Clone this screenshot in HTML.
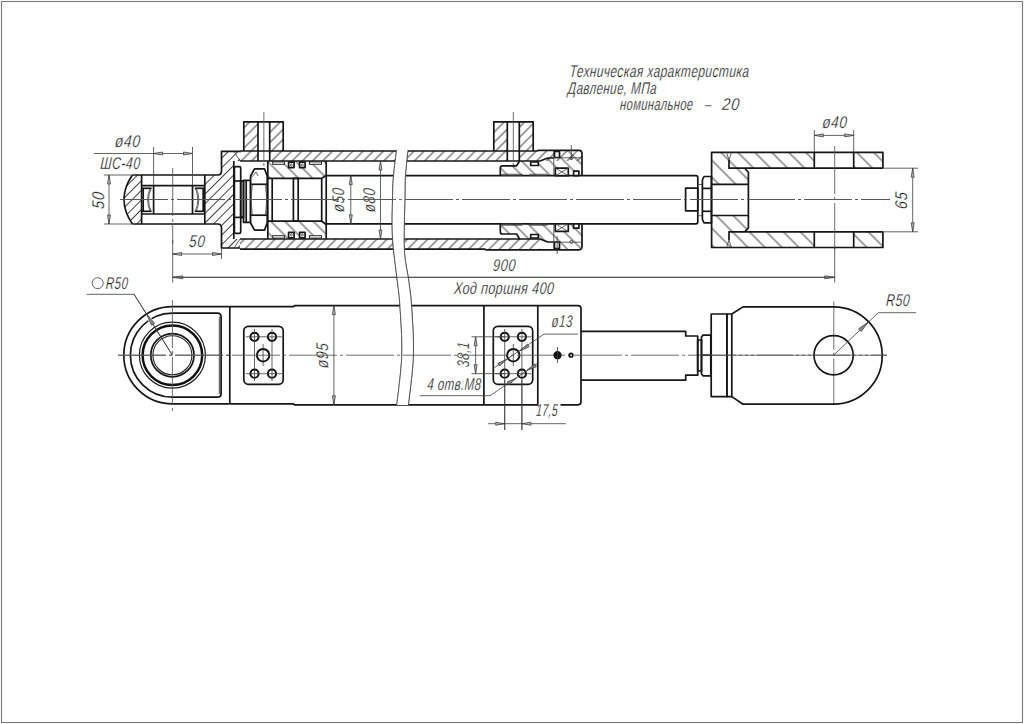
<!DOCTYPE html><html><head><meta charset="utf-8"><style>
html,body{margin:0;padding:0;background:#fff;width:1024px;height:724px;overflow:hidden}
svg{display:block}
.k{stroke:#161616;stroke-width:1.7;fill:none;stroke-linejoin:round}
.t{stroke:#3c3c3c;stroke-width:0.8;fill:none}
.c{stroke:#555;stroke-width:0.85;fill:none;stroke-dasharray:48 3 3 3}
.ar{fill:#b4b4b4;stroke:#3a3a3a;stroke-width:0.75}
text{font-family:"Liberation Sans",sans-serif;font-style:italic;fill:#111;stroke:#fff;stroke-width:0.28}
</style></head><body>
<svg width="1024" height="724" viewBox="0 0 1024 724">
<defs>
<pattern id="hA" patternUnits="userSpaceOnUse" width="7.2" height="7.2" patternTransform="rotate(45)"><line x1="3.6" y1="0" x2="3.6" y2="7.2" style="stroke:#222;stroke-width:0.85"/></pattern>
<pattern id="hE" patternUnits="userSpaceOnUse" width="6.8" height="6.8" patternTransform="rotate(45)"><line x1="3.4" y1="0" x2="3.4" y2="6.8" style="stroke:#222;stroke-width:0.85"/></pattern>
<pattern id="hB" patternUnits="userSpaceOnUse" width="10" height="10" patternTransform="rotate(-45)"><line x1="5.0" y1="0" x2="5.0" y2="10" style="stroke:#222;stroke-width:0.85"/></pattern>
<pattern id="hD" patternUnits="userSpaceOnUse" width="12" height="12" patternTransform="rotate(-45)"><line x1="6.0" y1="0" x2="6.0" y2="12" style="stroke:#222;stroke-width:0.85"/></pattern>
</defs>
<rect x="0" y="0" width="1024" height="724" fill="#fff"/>
<rect x="1.5" y="1.5" width="1021" height="721" style="fill:none;stroke:#7a7a7a;stroke-width:1.1"/>
<text x="0" y="0" font-size="17" text-anchor="start" textLength="253.37" lengthAdjust="spacing" transform="translate(569.3 76.5) scale(0.7080506329113924 1) skewX(-6)">Техническая характеристика</text>
<text x="0" y="0" font-size="17" text-anchor="start" textLength="128.87" lengthAdjust="spacing" transform="translate(567.6 93.7) scale(0.6883165283982131 1) skewX(-6)">Давление, МПа</text>
<text x="0" y="0" font-size="17" text-anchor="start" textLength="110.89" lengthAdjust="spacing" transform="translate(619.8 110.4) scale(0.658320973005043 1) skewX(-6)">номинальное</text>
<text x="0" y="0" font-size="17" text-anchor="start" textLength="9.97" lengthAdjust="spacing" transform="translate(704.5 110.4) scale(0.7023102310231022 1) skewX(-6)">–</text>
<text x="0" y="0" font-size="17" text-anchor="start" textLength="19.92" lengthAdjust="spacing" transform="translate(721.8 110.4) scale(0.8635507844756398 1) skewX(-6)">20</text>
<path d="M132.4,175 Q115.6,199.5 132.4,224 L141.6,224 L141.6,175 Z" style="fill:url(#hE);stroke:none"/>
<path d="M204.8,175 L217.8,175 Q221.5,175 221.5,171 L221.5,151.3 L240,151.3 L240,161 L234,161 L234,239 L240,239 L240,248 L221.5,248 L221.5,228 Q221.5,224 217.8,224 L204.8,224 Z" style="fill:url(#hE);stroke:none"/>
<path d="M132.4,175 Q115.6,199.5 132.4,224" class="k"/>
<path d="M132.4,175 L217.8,175 Q221.5,175 221.5,171 L221.5,151.3 L240,151.3" class="k"/>
<path d="M132.4,224 L217.8,224 Q221.5,224 221.5,228 L221.5,248 L240,248" class="k"/>
<line x1="141.6" y1="175" x2="141.6" y2="224" class="k"/>
<line x1="204.8" y1="175" x2="204.8" y2="224" class="k"/>
<line x1="233.8" y1="161" x2="233.8" y2="239" class="k"/>
<line x1="141.6" y1="185.7" x2="204.8" y2="185.7" class="k"/>
<line x1="141.6" y1="214" x2="204.8" y2="214" class="k"/>
<line x1="153.6" y1="185.7" x2="153.6" y2="214" class="k"/>
<line x1="192.5" y1="185.7" x2="192.5" y2="214" class="k"/>
<line x1="141.6" y1="188.3" x2="151.6" y2="188.3" class="k"/>
<line x1="141.6" y1="211.3" x2="151.6" y2="211.3" class="k"/>
<line x1="143.2" y1="188.3" x2="143.2" y2="211.3" class="k"/>
<path d="M150.1,188.3 Q145.1,199.5 150.1,211.3" class="t"/>
<path d="M151.1,188.3 Q146.1,199.5 151.1,211.3" class="t"/>
<line x1="204.8" y1="188.3" x2="194.8" y2="188.3" class="k"/>
<line x1="204.8" y1="211.3" x2="194.8" y2="211.3" class="k"/>
<line x1="203.20000000000002" y1="188.3" x2="203.20000000000002" y2="211.3" class="k"/>
<path d="M196.3,188.3 Q201.3,199.5 196.3,211.3" class="t"/>
<path d="M195.3,188.3 Q200.3,199.5 195.3,211.3" class="t"/>
<path d="M240,151 L582,151 L582,161 L240,161 Z" style="fill:url(#hA);stroke:none"/>
<path d="M240,239 L540,239 L540,249.2 L240,249.2 Z" style="fill:url(#hA);stroke:none"/>
<path d="M243.8,121.8 L258,121.8 L258,151 L243.8,151 Z" style="fill:url(#hA);stroke:none"/>
<path d="M269.7,121.8 L283.2,121.8 L283.2,151 L269.7,151 Z" style="fill:url(#hA);stroke:none"/>
<path d="M258,151 L269.7,151 L269.7,161 L258,161 Z" style="fill:#fff;stroke:none"/>
<path d="M243.8,151 L243.8,121.8 L283.2,121.8 L283.2,151" class="k"/>
<line x1="258" y1="121.8" x2="258" y2="161" class="k"/>
<line x1="269.7" y1="121.8" x2="269.7" y2="161" class="k"/>
<line x1="263.85" y1="112" x2="263.85" y2="166" class="c"/>
<path d="M493.8,121.8 L507.3,121.8 L507.3,151 L493.8,151 Z" style="fill:url(#hA);stroke:none"/>
<path d="M519.3,121.8 L533.2,121.8 L533.2,151 L519.3,151 Z" style="fill:url(#hA);stroke:none"/>
<path d="M507.3,151 L519.3,151 L519.3,161 L507.3,161 Z" style="fill:#fff;stroke:none"/>
<path d="M493.8,151 L493.8,121.8 L533.2,121.8 L533.2,151" class="k"/>
<line x1="507.3" y1="121.8" x2="507.3" y2="161" class="k"/>
<line x1="519.3" y1="121.8" x2="519.3" y2="161" class="k"/>
<line x1="513.3" y1="112" x2="513.3" y2="166" class="c"/>
<path d="M240,151 L537,151 L538,150.4 L579,150.4" class="k"/>
<path d="M240,161 L519.6,161" class="k"/>
<path d="M240,239 L519.6,239" class="k"/>
<path d="M240,249.2 L485,249.2 L486,249.8 L579,249.8" class="k"/>
<path d="M234,151.3 L240,161" class="t"/>
<path d="M234,248 L240,239" class="t"/>
<path d="M267.8,161 L326.2,161 L326.2,175.5 L321.7,178.3 L267.8,178.3 Z" style="fill:url(#hB);stroke:none"/>
<path d="M267.8,239 L326.2,239 L326.2,224.5 L321.7,221.2 L267.8,221.2 Z" style="fill:url(#hB);stroke:none"/>
<path d="M267.8,161 L267.8,239" class="k"/>
<path d="M326.2,161 L326.2,239" class="k"/>
<path d="M267.8,178.3 L321.7,178.3 L326.2,175.5" class="k"/>
<path d="M267.8,221.2 L321.7,221.2 L326.2,224.5" class="k"/>
<line x1="272.2" y1="178.3" x2="272.2" y2="221.2" class="k"/>
<line x1="321.7" y1="178.3" x2="321.7" y2="221.2" class="k"/>
<rect x="293.4" y="178.3" width="4.8" height="42.9" class="k"/>
<rect x="288.6" y="162.2" width="5.5" height="5.4" class="k" style="fill:#fff"/>
<rect x="288.6" y="232.4" width="5.5" height="5.4" class="k" style="fill:#fff"/>
<circle cx="291.35" cy="165" r="1.0" class="t"/>
<circle cx="291.35" cy="235" r="1.0" class="t"/>
<rect x="299.6" y="162.2" width="5.5" height="5.4" class="k" style="fill:#fff"/>
<rect x="299.6" y="232.4" width="5.5" height="5.4" class="k" style="fill:#fff"/>
<circle cx="302.35" cy="165" r="1.0" class="t"/>
<circle cx="302.35" cy="235" r="1.0" class="t"/>
<rect x="272.7" y="161.9" width="11.699999999999989" height="2.4" style="fill:#fff;stroke:#222;stroke-width:1"/>
<rect x="272.7" y="235.7" width="11.699999999999989" height="2.4" style="fill:#fff;stroke:#222;stroke-width:1"/>
<rect x="309.4" y="161.9" width="12.100000000000023" height="2.4" style="fill:#fff;stroke:#222;stroke-width:1"/>
<rect x="309.4" y="235.7" width="12.100000000000023" height="2.4" style="fill:#fff;stroke:#222;stroke-width:1"/>
<rect x="234.4" y="166.6" width="6.3" height="66.8" rx="1.5" class="k" style="fill:#fff"/>
<line x1="234.4" y1="181" x2="243.5" y2="181" class="k"/>
<line x1="234.4" y1="217.4" x2="243.5" y2="217.4" class="k"/>
<rect x="240.7" y="181" width="2.8" height="36.4" class="k"/>
<rect x="243.5" y="180.4" width="7.1" height="42" class="k"/>
<line x1="246.2" y1="180.4" x2="246.2" y2="222.4" class="k"/>
<path d="M250.6,176 L254.5,168.8 L264.5,168.8 L267.2,176 L267.2,223 L264.5,230.1 L254.5,230.1 L250.6,223 Z" class="k" style="fill:#fff"/>
<line x1="250.6" y1="184.3" x2="267.2" y2="184.3" class="k"/>
<line x1="250.6" y1="215.2" x2="267.2" y2="215.2" class="k"/>
<path d="M252.3,184.3 Q249.8,199.5 252.3,215.2" class="t"/>
<path d="M265.5,184.3 Q268,199.5 265.5,215.2" class="t"/>
<path d="M251,178 L256,172 L258,176" class="t"/>
<path d="M326.2,175.6 L696,175.6 Q697.8,175.6 697.8,177.6 L697.8,221.8 Q697.8,223.8 696,223.8 L326.2,223.8" class="k"/>
<path d="M500.3,165.8 L516.6,165.8 L519.6,161 L540,161 L547.8,158 L553.8,158 L553.8,150.4 L579,150.4 L582,154 L582,175.6 L500.3,175.6 Z" style="fill:url(#hB);stroke:none"/>
<path d="M500.3,234 L516.6,234 L519.6,239 L540,239 L547.8,242 L553.8,242 L553.8,249.8 L579,249.8 L582,246 L582,223.8 L500.3,223.8 Z" style="fill:url(#hB);stroke:none"/>
<path d="M500.3,175.6 L500.3,168 Q500.3,165.8 502.5,165.8 L516.6,165.8 L519.6,161 L540,161 L547.8,158 L553.8,158" class="k"/>
<path d="M500.3,223.8 L500.3,232 Q500.3,234 502.5,234 L516.6,234 L519.6,239 L540,239 L547.8,242 L553.8,242" class="k"/>
<path d="M579,150.4 Q582,150.4 582,154 L582,175.6" class="k"/>
<path d="M582,223.8 L582,246 Q582,249.8 579,249.8" class="k"/>
<line x1="553.8" y1="150.4" x2="553.8" y2="175.6" class="t"/>
<line x1="553.8" y1="223.8" x2="553.8" y2="249.8" class="t"/>
<rect x="555.3" y="168.1" width="13" height="7.6" class="k" style="fill:#fff"/>
<line x1="555.3" y1="168.1" x2="568.3" y2="175.7" class="t"/>
<line x1="555.3" y1="175.7" x2="568.3" y2="168.1" class="t"/>
<rect x="555.3" y="223.8" width="13" height="7.6" class="k" style="fill:#fff"/>
<line x1="555.3" y1="223.8" x2="568.3" y2="231.4" class="t"/>
<line x1="555.3" y1="231.4" x2="568.3" y2="223.8" class="t"/>
<rect x="573.6" y="171.2" width="5.3" height="4.4" class="k" style="fill:#fff"/>
<rect x="573.6" y="223.8" width="5.3" height="4.4" class="k" style="fill:#fff"/>
<rect x="530.7" y="162" width="7.6" height="3.5" class="k" style="fill:#fff"/>
<rect x="530.7" y="234.5" width="7.6" height="3.5" class="k" style="fill:#fff"/>
<rect x="554.5" y="151.5" width="5" height="6" class="k" style="fill:#fff"/>
<rect x="554.5" y="242" width="5" height="6.5" class="k" style="fill:#fff"/>
<circle cx="571.3" cy="158" r="1.6" class="t"/>
<circle cx="571.3" cy="242" r="1.6" class="t"/>
<line x1="571.3" y1="145" x2="571.3" y2="160" class="t"/>
<line x1="557.2" y1="236" x2="557.2" y2="254" class="t"/>
<line x1="553.8" y1="157.8" x2="581" y2="157.8" class="t"/>
<line x1="553.8" y1="242.2" x2="581" y2="242.2" class="t"/>
<rect x="502" y="174.2" width="20" height="1.4" class="t"/>
<rect x="530" y="174.2" width="17" height="1.4" class="t"/>
<rect x="502" y="223.8" width="20" height="1.4" class="t"/>
<rect x="530" y="223.8" width="17" height="1.4" class="t"/>
<rect x="685.6" y="188.2" width="12.2" height="22.6" class="k"/>
<path d="M697.8,184.5 L702.4,184.5 L702.4,215.7 L697.8,215.7" class="t"/>
<path d="M702.4,180 L704,176.5 L711.4,176.5 L711.4,222.9 L704,222.9 L702.4,219.5 Z" class="k" style="fill:#fff"/>
<line x1="702.4" y1="188.4" x2="711.4" y2="188.4" class="k"/>
<line x1="702.4" y1="211.3" x2="711.4" y2="211.3" class="k"/>
<path d="M711.6,152.4 L814.3,152.4 L814.3,168.2 L744.7,168.2 L748.4,172.3 L748.4,184.4 L711.6,184.4 Z" style="fill:url(#hD);stroke:none"/>
<path d="M711.6,247.5 L814.3,247.5 L814.3,231.8 L744.7,231.8 L748.4,227.9 L748.4,215.5 L711.6,215.5 Z" style="fill:url(#hD);stroke:none"/>
<path d="M853.7,152.4 L882.9,152.4 L882.9,168.2 L853.7,168.2 Z" style="fill:url(#hD);stroke:none"/>
<path d="M853.7,247.5 L882.9,247.5 L882.9,231.8 L853.7,231.8 Z" style="fill:url(#hD);stroke:none"/>
<path d="M882.9,168.2 L882.9,152.4 L711.6,152.4 L711.6,247.5 L882.9,247.5 L882.9,231.8" class="k"/>
<path d="M882.9,168.2 L729,168.2 L729,160 M729,168.2 L744.7,168.2 L748.4,172.3 L748.4,227.9 L744.7,231.8 L729,231.8 L729,240 M729,231.8 L882.9,231.8" class="k"/>
<line x1="711.6" y1="184.4" x2="748.4" y2="184.4" class="k"/>
<line x1="711.6" y1="215.5" x2="748.4" y2="215.5" class="k"/>
<line x1="814.3" y1="152.4" x2="814.3" y2="168.2" class="k"/>
<line x1="853.7" y1="152.4" x2="853.7" y2="168.2" class="k"/>
<line x1="814.3" y1="231.8" x2="814.3" y2="247.5" class="k"/>
<line x1="853.7" y1="231.8" x2="853.7" y2="247.5" class="k"/>
<path d="M726.5,152.4 L729,160 L731.5,152.4" class="t"/>
<path d="M726.5,247.5 L729,240 L731.5,247.5" class="t"/>
<path d="M396.6,150 C396.10,154.17 394.28,166.83 393.6,175 C392.92,183.17 392.68,188.50 392.5,199 C392.32,209.50 391.72,224.50 392.5,238 C393.28,251.50 395.97,268.75 397.2,280 C398.43,291.25 399.13,293.00 399.9,305.5 C400.67,318.00 402.32,338.42 401.8,355 C401.28,371.58 397.63,396.67 396.8,405 L408.4,405 C409.23,396.67 412.88,371.58 413.4,355 C413.92,338.42 412.30,318.00 411.5,305.5 C410.70,293.00 409.80,289.42 408.6,280 C407.40,270.58 404.92,262.50 404.3,249 C403.68,235.50 404.70,211.33 404.9,199 C405.10,186.67 404.98,183.17 405.5,175 C406.02,166.83 407.58,154.17 408,150 Z" style="fill:#fff;stroke:none"/>
<path d="M396.6,150 C396.10,154.17 394.28,166.83 393.6,175 C392.92,183.17 392.68,188.50 392.5,199 C392.32,209.50 391.72,224.50 392.5,238 C393.28,251.50 395.97,268.75 397.2,280 C398.43,291.25 399.13,293.00 399.9,305.5 C400.67,318.00 402.32,338.42 401.8,355 C401.28,371.58 397.63,396.67 396.8,405" class="t"/>
<path d="M408,150 C407.58,154.17 406.02,166.83 405.5,175 C404.98,183.17 405.10,186.67 404.9,199 C404.70,211.33 403.68,235.50 404.3,249 C404.92,262.50 407.40,270.58 408.6,280 C409.80,289.42 410.70,293.00 411.5,305.5 C412.30,318.00 413.92,338.42 413.4,355 C412.88,371.58 409.23,396.67 408.4,405" class="t"/>
<line x1="120" y1="199.5" x2="890" y2="199.5" class="c"/>
<line x1="172.7" y1="168" x2="172.7" y2="244" class="c"/>
<line x1="172.7" y1="240" x2="172.7" y2="282.5" class="t"/>
<line x1="834.7" y1="146" x2="834.7" y2="250" class="c"/>
<line x1="834.7" y1="246" x2="834.7" y2="282.5" class="t"/>
<line x1="833.8" y1="301.5" x2="833.8" y2="405" class="c"/>
<line x1="94" y1="153.5" x2="192.4" y2="153.5" class="t"/>
<line x1="153.6" y1="147" x2="153.6" y2="185.7" class="t"/>
<line x1="192.5" y1="147" x2="192.5" y2="185.7" class="t"/>
<polygon points="153.6,153.5 162.6,152.0 162.6,155.0" class="ar"/>
<polygon points="192.5,153.5 183.5,152.0 183.5,155.0" class="ar"/>
<text x="0" y="0" font-size="17" text-anchor="start" textLength="30.84" lengthAdjust="spacing" transform="translate(114.5 146.9) scale(0.8171519999999999 1) skewX(-6)">ø40</text>
<text x="0" y="0" font-size="17" text-anchor="start" textLength="55.26" lengthAdjust="spacing" transform="translate(100 168.9) scale(0.7183809523809523 1) skewX(-6)">ШС-40</text>
<line x1="104" y1="175" x2="132" y2="175" class="t"/>
<line x1="104" y1="224" x2="132" y2="224" class="t"/>
<line x1="109" y1="175" x2="109" y2="224" class="t"/>
<polygon points="109,175 107.5,184 110.5,184" class="ar"/>
<polygon points="109,224 107.5,215 110.5,215" class="ar"/>
<text x="0" y="0" font-size="17" text-anchor="middle" textLength="19.92" lengthAdjust="spacing" transform="translate(104 200.8) rotate(-90) scale(0.8535094962840627 1) skewX(-6)">50</text>
<line x1="172.7" y1="254" x2="221.5" y2="254" class="t"/>
<line x1="221.5" y1="248" x2="221.5" y2="259" class="t"/>
<polygon points="172.7,254 181.7,252.5 181.7,255.5" class="ar"/>
<polygon points="221.5,254 212.5,252.5 212.5,255.5" class="ar"/>
<text x="0" y="0" font-size="17" text-anchor="start" textLength="19.92" lengthAdjust="spacing" transform="translate(188.8 246.9) scale(0.7882411230388109 1) skewX(-6)">50</text>
<line x1="350.8" y1="175.6" x2="350.8" y2="223.8" class="t"/>
<polygon points="350.8,175.6 349.3,184.6 352.3,184.6" class="ar"/>
<polygon points="350.8,223.8 349.3,214.8 352.3,214.8" class="ar"/>
<text x="0" y="0" font-size="17" text-anchor="middle" textLength="30.84" lengthAdjust="spacing" transform="translate(344 200.4) rotate(-90) scale(0.77824 1) skewX(-6)">ø50</text>
<line x1="380.5" y1="161" x2="380.5" y2="239" class="t"/>
<polygon points="380.5,161 379.0,170 382.0,170" class="ar"/>
<polygon points="380.5,239 379.0,230 382.0,230" class="ar"/>
<text x="0" y="0" font-size="17" text-anchor="middle" textLength="30.84" lengthAdjust="spacing" transform="translate(375 200.6) rotate(-90) scale(0.77824 1) skewX(-6)">ø80</text>
<line x1="172.7" y1="277.3" x2="834.7" y2="277.3" class="t"/>
<polygon points="172.7,277.3 182.7,275.8 182.7,278.8" class="ar"/>
<polygon points="834.7,277.3 824.7,275.8 824.7,278.8" class="ar"/>
<text x="0" y="0" font-size="17" text-anchor="start" textLength="29.87" lengthAdjust="spacing" transform="translate(492.6 271) scale(0.7566519823788546 1) skewX(-6)">900</text>
<text x="0" y="0" font-size="17" text-anchor="start" textLength="135.21" lengthAdjust="spacing" transform="translate(453.7 293.5) scale(0.7380902566597738 1) skewX(-6)">Ход поршня 400</text>
<line x1="814.3" y1="130" x2="814.3" y2="152.4" class="t"/>
<line x1="853.7" y1="130" x2="853.7" y2="152.4" class="t"/>
<line x1="814.3" y1="135.4" x2="853.7" y2="135.4" class="t"/>
<polygon points="814.3,135.4 823.3,133.9 823.3,136.9" class="ar"/>
<polygon points="853.7,135.4 844.7,133.9 844.7,136.9" class="ar"/>
<text x="0" y="0" font-size="17" text-anchor="start" textLength="30.84" lengthAdjust="spacing" transform="translate(822 127.6) scale(0.7912106666666666 1) skewX(-6)">ø40</text>
<line x1="883" y1="168.2" x2="918" y2="168.2" class="t"/>
<line x1="883" y1="231.8" x2="918" y2="231.8" class="t"/>
<line x1="912.7" y1="168.2" x2="912.7" y2="231.8" class="t"/>
<polygon points="912.7,168.2 911.2,177.2 914.2,177.2" class="ar"/>
<polygon points="912.7,231.8 911.2,222.8 914.2,222.8" class="ar"/>
<text x="0" y="0" font-size="17" text-anchor="middle" textLength="19.92" lengthAdjust="spacing" transform="translate(907 201) rotate(-90) scale(0.8535094962840627 1) skewX(-6)">65</text>
<path d="M229.8,306.6 L172.4,306.6 A48.6,48.6 0 0 0 172.4,403.8 L229.8,403.8" class="k"/>
<path d="M172.4,313.2 L217.5,313.2 Q221.1,313.2 221.1,317 L221.1,393.4 Q221.1,397.2 217.5,397.2 L172.4,397.2 A42,42 0 0 1 172.4,313.2" class="k"/>
<line x1="229.8" y1="306.6" x2="229.8" y2="403.8" class="k"/>
<circle cx="172.4" cy="355.2" r="33" style="fill:none;stroke:#1a1a1a;stroke-width:1.2"/>
<circle cx="172.4" cy="355.2" r="29.8" style="fill:none;stroke:#111;stroke-width:2.5"/>
<circle cx="172.4" cy="355.2" r="21.6" class="k"/>
<circle cx="172.4" cy="355.2" r="19.5" style="fill:none;stroke:#222;stroke-width:1.1"/>
<line x1="219.3" y1="316.5" x2="219.3" y2="394" style="stroke:#333;stroke-width:0.9"/>
<line x1="118" y1="355.2" x2="230" y2="355.2" class="c"/>
<line x1="172.4" y1="300" x2="172.4" y2="412" class="c"/>
<line x1="86.6" y1="294.3" x2="134.1" y2="294.3" class="t"/>
<line x1="134.1" y1="294.3" x2="172.4" y2="355.2" class="t"/>
<line x1="147.9" y1="316.3" x2="152.2" y2="323.0" style="stroke:#fff;stroke-width:4"/>
<line x1="134.1" y1="294.3" x2="172.4" y2="355.2" class="t"/>
<polygon points="146.6,314.1 151.46,325.22 154.50,323.31" class="ar" style="fill:#8a8a8a"/>
<circle cx="97.7" cy="283.2" r="5.5" class="t"/>
<text x="0" y="0" font-size="17" text-anchor="start" textLength="32.83" lengthAdjust="spacing" transform="translate(105.4 288.7) scale(0.673186372745491 1) skewX(-6)">R50</text>
<path d="M229.8,306.6 L293.5,306.6 L294.5,305.6 L578,305.6 Q581,305.6 581,308.6 L581,401.8 Q581,404.8 578,404.8 L294.5,404.8 L293.5,403.8 L229.8,403.8" class="k"/>
<line x1="483.9" y1="305.6" x2="483.9" y2="404.8" class="k"/>
<line x1="537.8" y1="305.6" x2="537.8" y2="404.8" class="k"/>
<rect x="243.8" y="326.4" width="39.4" height="57.9" rx="4.5" class="k"/>
<circle cx="254.5" cy="336.8" r="4.1" style="fill:none;stroke:#111;stroke-width:2"/>
<circle cx="254.5" cy="373.7" r="4.1" style="fill:none;stroke:#111;stroke-width:2"/>
<circle cx="272" cy="336.8" r="4.1" style="fill:none;stroke:#111;stroke-width:2"/>
<circle cx="272" cy="373.7" r="4.1" style="fill:none;stroke:#111;stroke-width:2"/>
<circle cx="263.1" cy="355.2" r="6.2" style="fill:none;stroke:#111;stroke-width:2"/>
<line x1="245.8" y1="336.8" x2="281.8" y2="336.8" class="t"/>
<line x1="245.8" y1="373.7" x2="281.8" y2="373.7" class="t"/>
<line x1="254.5" y1="329" x2="254.5" y2="381" class="t"/>
<line x1="272" y1="329" x2="272" y2="381" class="t"/>
<line x1="263.1" y1="344" x2="263.1" y2="366" class="t"/>
<rect x="493.3" y="326.4" width="39.4" height="57.9" rx="4.5" class="k"/>
<circle cx="504.7" cy="336.8" r="4.1" style="fill:none;stroke:#111;stroke-width:2"/>
<circle cx="504.7" cy="373.7" r="4.1" style="fill:none;stroke:#111;stroke-width:2"/>
<circle cx="521.9" cy="336.8" r="4.1" style="fill:none;stroke:#111;stroke-width:2"/>
<circle cx="521.9" cy="373.7" r="4.1" style="fill:none;stroke:#111;stroke-width:2"/>
<circle cx="513.3" cy="355.2" r="6.2" style="fill:none;stroke:#111;stroke-width:2"/>
<line x1="495.3" y1="336.8" x2="531.3" y2="336.8" class="t"/>
<line x1="495.3" y1="373.7" x2="531.3" y2="373.7" class="t"/>
<line x1="504.7" y1="329" x2="504.7" y2="430" class="t"/>
<line x1="521.9" y1="329" x2="521.9" y2="430" class="t"/>
<line x1="513.3" y1="344" x2="513.3" y2="366" class="t"/>
<path d="M396.6,150 C396.10,154.17 394.28,166.83 393.6,175 C392.92,183.17 392.68,188.50 392.5,199 C392.32,209.50 391.72,224.50 392.5,238 C393.28,251.50 395.97,268.75 397.2,280 C398.43,291.25 399.13,293.00 399.9,305.5 C400.67,318.00 402.32,338.42 401.8,355 C401.28,371.58 397.63,396.67 396.8,405 L408.4,405 C409.23,396.67 412.88,371.58 413.4,355 C413.92,338.42 412.30,318.00 411.5,305.5 C410.70,293.00 409.80,289.42 408.6,280 C407.40,270.58 404.92,262.50 404.3,249 C403.68,235.50 404.70,211.33 404.9,199 C405.10,186.67 404.98,183.17 405.5,175 C406.02,166.83 407.58,154.17 408,150 Z" style="fill:#fff;stroke:none"/>
<path d="M396.6,150 C396.10,154.17 394.28,166.83 393.6,175 C392.92,183.17 392.68,188.50 392.5,199 C392.32,209.50 391.72,224.50 392.5,238 C393.28,251.50 395.97,268.75 397.2,280 C398.43,291.25 399.13,293.00 399.9,305.5 C400.67,318.00 402.32,338.42 401.8,355 C401.28,371.58 397.63,396.67 396.8,405" class="t"/>
<path d="M408,150 C407.58,154.17 406.02,166.83 405.5,175 C404.98,183.17 405.10,186.67 404.9,199 C404.70,211.33 403.68,235.50 404.3,249 C404.92,262.50 407.40,270.58 408.6,280 C409.80,289.42 410.70,293.00 411.5,305.5 C412.30,318.00 413.92,338.42 413.4,355 C412.88,371.58 409.23,396.67 408.4,405" class="t"/>
<line x1="118" y1="355.2" x2="887" y2="355.2" class="c"/>
<line x1="120" y1="199.5" x2="890" y2="199.5" class="c"/>
<line x1="172.7" y1="277.3" x2="834.7" y2="277.3" class="t"/>
<line x1="333.9" y1="305.6" x2="333.9" y2="404.8" class="t"/>
<polygon points="333.9,305.6 332.4,314.6 335.4,314.6" class="ar"/>
<polygon points="333.9,404.8 332.4,395.8 335.4,395.8" class="ar"/>
<text x="0" y="0" font-size="17" text-anchor="middle" textLength="30.84" lengthAdjust="spacing" transform="translate(328 356) rotate(-90) scale(0.8106666666666666 1) skewX(-6)">ø95</text>
<line x1="471.5" y1="336.8" x2="505" y2="336.8" class="t"/>
<line x1="471.5" y1="373.7" x2="505" y2="373.7" class="t"/>
<line x1="475.6" y1="336.8" x2="475.6" y2="373.7" class="t"/>
<polygon points="475.6,336.8 474.1,345.8 477.1,345.8" class="ar"/>
<polygon points="475.6,373.7 474.1,364.7 477.1,364.7" class="ar"/>
<text x="0" y="0" font-size="17" text-anchor="middle" textLength="34.84" lengthAdjust="spacing" transform="translate(469 355) rotate(-90) scale(0.7176581680830972 1) skewX(-6)">38,1</text>
<text x="0" y="0" font-size="17" text-anchor="start" textLength="78.96" lengthAdjust="spacing" transform="translate(427 389.5) scale(0.68132472401583 1) skewX(-6)">4 отв.М8</text>
<line x1="419.7" y1="395.7" x2="490" y2="395.7" class="t"/>
<line x1="490" y1="395.7" x2="538.9" y2="362.5" class="t"/>
<polygon points="516.5,378 507.19,381.99 508.90,384.69" class="ar" style="fill:#8a8a8a"/>
<polygon points="527,370.3 536.45,366.66 534.84,363.89" class="ar" style="fill:#8a8a8a"/>
<text x="0" y="0" font-size="17" text-anchor="start" textLength="30.84" lengthAdjust="spacing" transform="translate(551.3 327.3) scale(0.6712319999999999 1) skewX(-6)">ø13</text>
<line x1="544" y1="334.1" x2="578" y2="334.1" class="t"/>
<line x1="544" y1="334.1" x2="494.3" y2="367.7" class="t"/>
<polygon points="519.8,350.9 529.09,346.87 527.37,344.17" class="ar" style="fill:#8a8a8a"/>
<polygon points="507.1,359.2 497.84,363.30 499.58,365.99" class="ar" style="fill:#8a8a8a"/>
<line x1="504.7" y1="380" x2="504.7" y2="430" class="t"/>
<line x1="521.9" y1="380" x2="521.9" y2="430" class="t"/>
<line x1="488" y1="423.7" x2="565.8" y2="423.7" class="t"/>
<polygon points="504.7,423.7 495.7,422.2 495.7,425.2" class="ar"/>
<polygon points="521.9,423.7 530.9,422.2 530.9,425.2" class="ar"/>
<path d="M538.6,403.2 L560.5,403.2 L560.5,418 L538.6,418 Z" style="fill:#fff;stroke:none"/>
<text x="0" y="0" font-size="17" text-anchor="start" textLength="34.84" lengthAdjust="spacing" transform="translate(535.8 416.4) scale(0.6229272898961284 1) skewX(-6)">17,5</text>
<circle cx="557.5" cy="355.2" r="3.3" class="k" style="fill:#111"/>
<circle cx="571" cy="355.2" r="1.8" class="k"/>
<line x1="557.5" y1="347" x2="557.5" y2="363" class="t"/>
<path d="M581,331.3 L685.7,331.3 L685.7,336 L697.7,336 L697.7,375.2 L685.7,375.2 L685.7,380.2 L581,380.2" class="k"/>
<rect x="697.7" y="340" width="3.8" height="31" class="k"/>
<path d="M701.5,337 L703,335.1 L710.8,335.1 L710.8,375.8 L703,375.8 L701.5,374 Z" class="k"/>
<line x1="701.5" y1="355.2" x2="710.8" y2="355.2" class="k"/>
<rect x="711.2" y="314" width="15.7" height="82.6" class="k"/>
<rect x="726.9" y="314" width="4.9" height="82.6" class="k"/>
<path d="M731.8,314 L743,306.9 L833.6,306.9 A48.65,48.65 0 0 1 833.6,404.2 L743,404.2 L731.8,396.6" class="k"/>
<circle cx="833.6" cy="355.2" r="19.6" class="k"/>
<line x1="700" y1="355.2" x2="887" y2="355.2" class="c"/>
<line x1="833.6" y1="355.2" x2="878.3" y2="312.7" class="t"/>
<line x1="878.3" y1="312.7" x2="916" y2="312.7" class="t"/>
<polygon points="868.6,321.8 858.68,328.78 861.16,331.39" class="ar" style="fill:#8a8a8a"/>
<text x="0" y="0" font-size="17" text-anchor="start" textLength="32.83" lengthAdjust="spacing" transform="translate(885.8 305.8) scale(0.7188777555110221 1) skewX(-6)">R50</text>
</svg></body></html>
